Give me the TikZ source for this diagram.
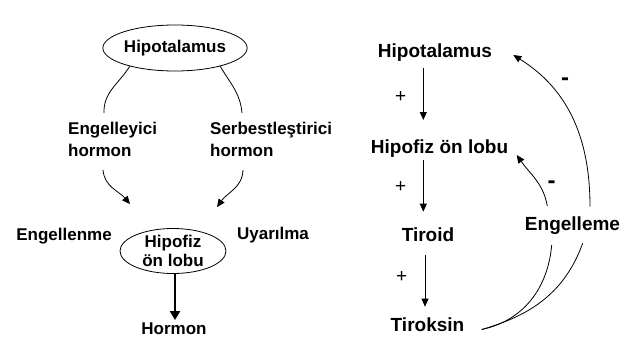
\documentclass[tikz,border=0pt]{standalone}
\usepackage{fontspec}
\setmainfont{Liberation Sans}
\usetikzlibrary{arrows.meta,shapes.geometric,calc}
\begin{document}
\begin{tikzpicture}[x=1pt,y=1pt,
  lt/.style={font=\bfseries\fontsize{17}{21.7}\selectfont, inner sep=0pt, align=center},
  rt/.style={font=\bfseries\fontsize{19}{22}\selectfont, inner sep=0pt},
  ell/.style={draw, ellipse, line width=0.8pt, inner sep=0pt},
  conn/.style={line width=0.8pt},
  arr/.style={conn, -{Triangle[length=8pt,width=7pt]}},
  bigarr/.style={line width=2.2pt, -{Triangle[length=9pt,width=10pt]}},
  sign/.style={font=\fontsize{19}{19}\selectfont, inner sep=0pt},
  msign/.style={font=\bfseries\fontsize{24}{24}\selectfont, inner sep=0pt}
]
\useasboundingbox (0,0) rectangle (631,338);
% ---------- left diagram ----------
\node[ell, lt, minimum width=142pt, minimum height=46pt] (h1) at (175,290) {Hipotalamus};
\node[lt, align=left, anchor=west] (inh) at (68,198.5) {Engelleyici\\hormon};
\node[lt, align=left, anchor=west] (rel) at (210,198.5) {Serbestleştirici\\hormon};
\node[ell, lt, font=\bfseries\fontsize{17}{19}\selectfont, minimum width=106pt, minimum height=45pt] (pit) at (173,87) {Hipofiz\\ön lobu};
\node[lt, anchor=base] (engn) at (64,98) {Engellenme};
\node[lt, anchor=base] (uyar) at (273,99) {Uyarılma};
\node[lt, anchor=base] (horm) at (174,4) {Hormon};

\coordinate (c1e) at (104,225);
\coordinate (c2s) at (103,168);
\coordinate (c2e) at ($(pit.north)+(-43,24)$);
\coordinate (c3e) at (242,225);
\coordinate (c4s) at (243,168);
\coordinate (c4e) at ($(pit.north)+(44,21)$);

\draw[conn] (h1.202) to[out=238,in=92] (c1e);
\draw[arr] (c2s) to[out=-85,in=130] (c2e);
\draw[conn] (h1.-22) to[out=-60,in=95] (c3e);
\draw[arr] (c4s) to[out=-92,in=55] (c4e);
\draw[bigarr] ($(pit.south)+(2,0)$) -- ($(horm.north)+(1,2)$);

% ---------- right diagram ----------
\node[rt, anchor=base] (rh) at (435,280) {Hipotalamus};
\node[rt, anchor=base] (rp) at (439.5,184.7) {Hipofiz ön lobu};
\node[rt, anchor=base] (rtr) at (428,96.3) {Tiroid};
\node[rt, anchor=base] (rtx) at (427.5,6.3) {Tiroksin};
\node[rt, anchor=base] (reng) at (572.5,107.3) {Engelleme};

\node[sign] (p1) at (400.7,241.3) {+};
\node[sign] (p2) at (400.7,151.3) {+};
\node[sign] (p3) at (401.7,61.3) {+};
\node[msign] (m1) at (565,256.3) {-};
\node[msign] (m2) at (551.7,153) {-};

\draw[arr] (423.3,269.7) -- (423.3,218);
\draw[arr] (423.3,178) -- (423.3,126.3);
\draw[arr] (425,83) -- (425,31.3);

\coordinate (aS) at (590,131.3);
\coordinate (aE) at (513.3,283);
\coordinate (bS) at (547.3,132);
\coordinate (bE) at (516.7,183);
\coordinate (cS) at (551.7,93);
\coordinate (dS) at (582.7,94.7);
\coordinate (tE) at (481.7,8.5);

\draw[arr] (aS) to[out=90,in=-32] (aE);
\draw[arr] (bS) to[out=100,in=-55] (bE);
\draw[conn] (cS) to[out=-95,in=12] (tE);
\draw[conn] (dS) to[out=-110,in=16] (tE);
\end{tikzpicture}
\end{document}
